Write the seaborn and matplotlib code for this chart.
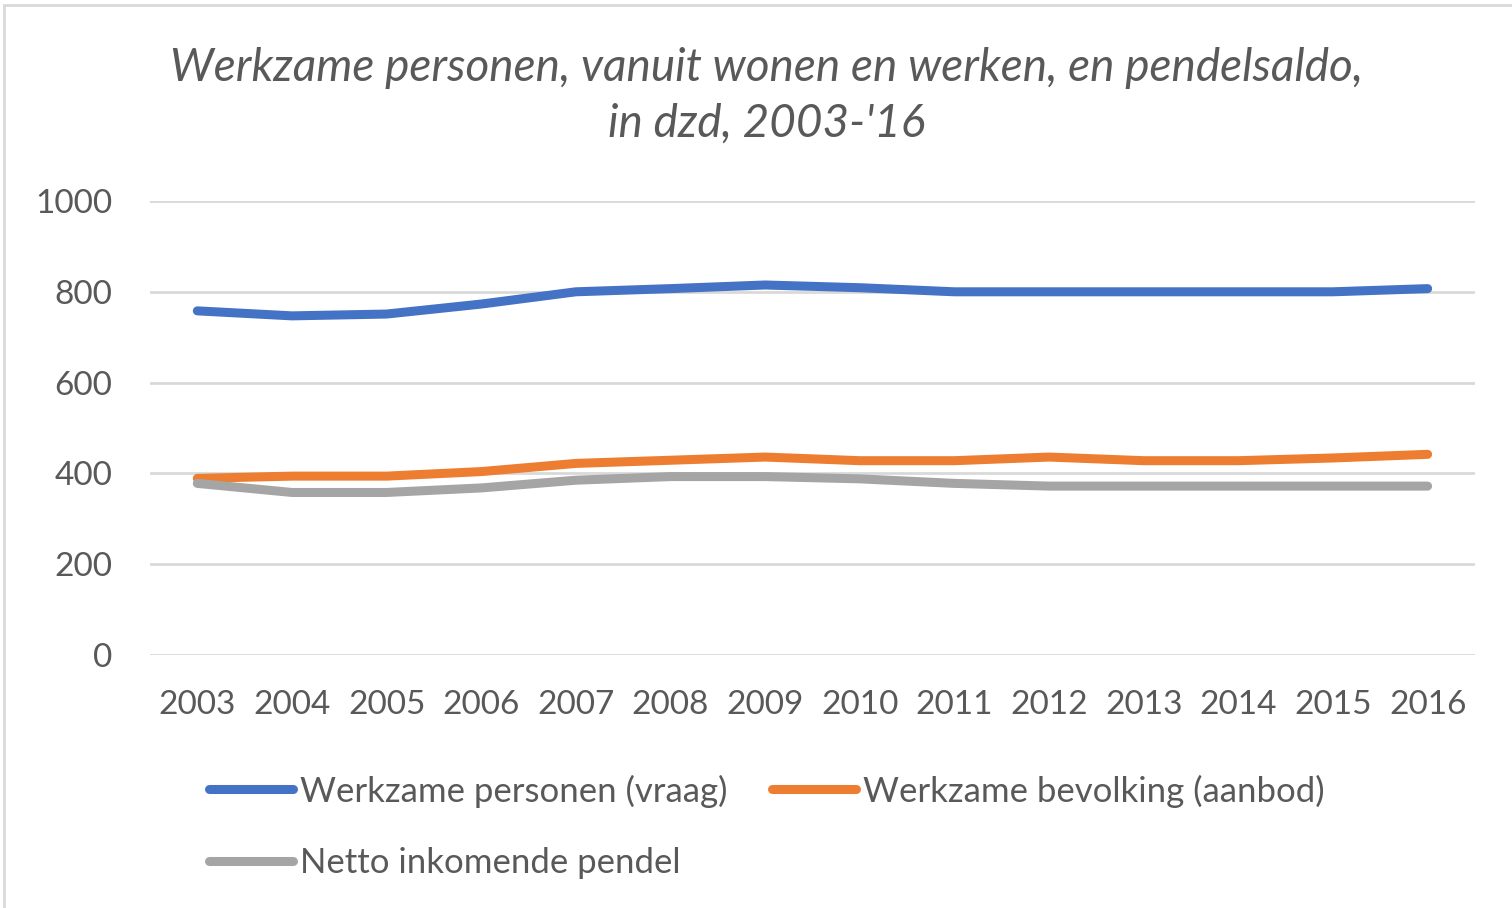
import numpy as np
import pandas as pd
import seaborn as sns
import matplotlib.pyplot as plt
from matplotlib.patches import Rectangle

jaren = list(range(2003, 2017))
vraag = [758, 747, 751, 773, 800, 807, 815, 809, 800, 800, 800, 800, 800, 807]
aanbod = [389, 394, 394, 404, 422, 429, 436, 428, 428, 436, 428, 428, 434, 442]
pendel = [378, 358, 358, 368, 385, 393, 393, 388, 378, 372, 372, 372, 372, 372]

reeksen = ['Werkzame personen (vraag)', 'Werkzame bevolking (aanbod)', 'Netto inkomende pendel']
kleuren = ['#4472C4', '#ED7D31', '#A5A5A5']

df = pd.DataFrame({'jaar': jaren * 3,
                   'waarde': vraag + aanbod + pendel,
                   'reeks': np.repeat(reeksen, len(jaren))})

sns.set_style('white')
plt.rcParams['font.family'] = ['Lato', 'DejaVu Sans']
tekst = '#595959'

fig = plt.figure(figsize=(15.12, 9.08), dpi=100)
ax = fig.add_axes([0.0992, 1 - 655 / 908, 0.8763, 454 / 908])

sns.lineplot(data=df, x='jaar', y='waarde', hue='reeks', hue_order=reeksen,
             palette=kleuren, linewidth=6.5, ax=ax, legend=False,
             solid_capstyle='round')

ax.set_xlim(2002.5, 2016.5)
ax.set_ylim(0, 1000)
ax.set_xticks(jaren)
ax.set_yticks(range(0, 1001, 200))
ax.yaxis.grid(True, color='#D9D9D9', linewidth=2)
ax.set_axisbelow(True)
for s in ax.spines.values():
    s.set_visible(False)
ax.tick_params(axis='both', labelsize=24, colors=tekst, length=0)
ax.tick_params(axis='x', pad=25)
ax.tick_params(axis='y', pad=27)
ax.set_xlabel('')
ax.set_ylabel('')

fig.text(0.507, 1 - 68 / 908, "Werkzame personen, vanuit wonen en werken, en pendelsaldo,",
         ha='center', va='center', fontsize=33, style='italic', color=tekst)
fig.text(0.507, 1 - 124 / 908, "in dzd, 2003-'16",
         ha='center', va='center', fontsize=33, style='italic', color=tekst)

# legend: column-wise fill, so put grey second
handles = [plt.Line2D([], [], color=c, linewidth=6.5, solid_capstyle='round') for c in kleuren]
volgorde = [0, 2, 1]
leg = fig.legend([handles[i] for i in volgorde], [reeksen[i] for i in volgorde],
                 ncol=2, loc='upper left', bbox_to_anchor=(192 / 1512, 1 - 757 / 908),
                 frameon=False, fontsize=25, handlelength=2.4, handletextpad=0.2,
                 columnspacing=1.3, labelspacing=1.15, borderpad=0)
for t in leg.get_texts():
    t.set_color(tekst)

fig.add_artist(Rectangle((4 / 1512, -0.05), 1.2, 1.05 - 5 / 908, transform=fig.transFigure,
                         fill=False, edgecolor='#D9D9D9', linewidth=2))

fig.savefig('out.png', dpi=100)
